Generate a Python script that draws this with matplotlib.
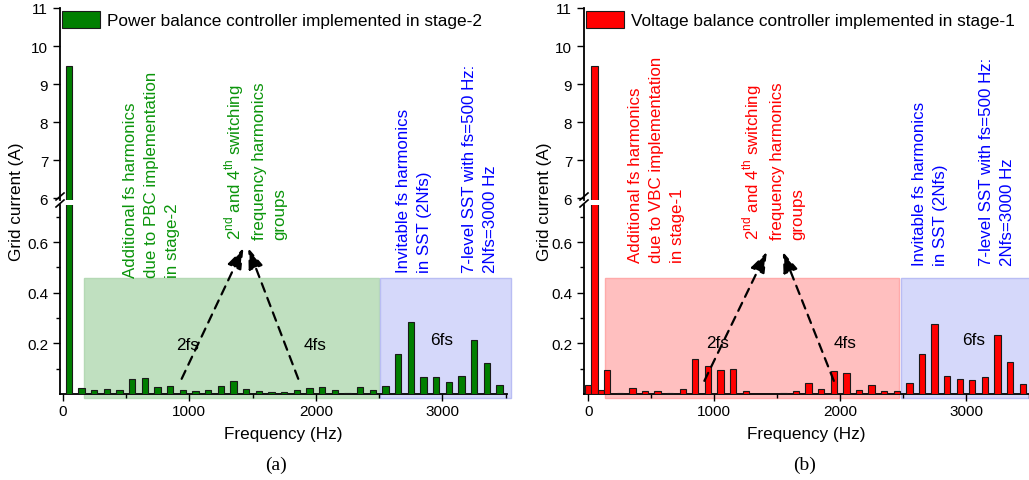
import numpy as np
import matplotlib
matplotlib.use('Agg')
import matplotlib.pyplot as plt
from matplotlib.patches import Rectangle
from matplotlib.lines import Line2D

plt.rcParams['font.family'] = ['Liberation Sans', 'DejaVu Sans']
plt.rcParams['mathtext.fontset'] = 'custom'
plt.rcParams['mathtext.rm'] = 'Liberation Sans'

## Harmonic spectra
freq_a = [50, 150, 250, 350, 450, 550, 650, 750, 850, 950, 1050, 1150, 1250, 1350,
          1450, 1550, 1650, 1750, 1850, 1950, 2050, 2150, 2250, 2350, 2450, 2550,
          2650, 2750, 2850, 2950, 3050, 3150, 3250, 3350, 3450]
current_a = [9.48, 0.025, 0.015, 0.02, 0.015, 0.06, 0.063, 0.028, 0.03, 0.015, 0.012,
             0.017, 0.03, 0.05, 0.018, 0.012, 0.007, 0.008, 0.015, 0.025, 0.026,
             0.014, 0.005, 0.026, 0.015, 0.032, 0.158, 0.284, 0.066, 0.069, 0.049,
             0.073, 0.215, 0.124, 0.034]

freq_b = [0, 50, 100, 150, 250, 350, 450, 550, 650, 750, 850, 950, 1050, 1150, 1250,
          1350, 1450, 1550, 1650, 1750, 1850, 1950, 2050, 2150, 2250, 2350, 2450,
          2550, 2650, 2750, 2850, 2950, 3050, 3150, 3250, 3350, 3450]
current_b = [0.036, 9.48, 0.015, 0.095, 0.003, 0.024, 0.013, 0.011, 0.005, 0.018,
             0.138, 0.11, 0.096, 0.1, 0.011, 0.001, 0.001, 0.003, 0.01, 0.045, 0.021,
             0.09, 0.084, 0.017, 0.036, 0.01, 0.013, 0.043, 0.158, 0.275, 0.072,
             0.058, 0.055, 0.067, 0.233, 0.128, 0.041]

label_a = 'Power balance controller implemented in stage-2'
label_b = 'Voltage balance controller implemented in stage-1'
note_a = 'Additional fs harmonics\ndue to PBC implementation\nin stage-2'
note_b = 'Additional fs harmonics\ndue to VBC implementation\nin stage-1'
note_groups = '2$^{\\mathregular{nd}}$ and 4$^{\\mathregular{th}}$ switching\nfrequency harmonics\ngroups'
note_sst1 = 'Invitable fs harmonics\nin SST (2Nfs)'
note_sst2 = '7-level SST with fs=500 Hz:\n2Nfs=3000 Hz'

W, H = 1029, 481
fig = plt.figure(figsize=(W / 100, H / 100), dpi=100)

def fx(px):
    return px / W

def fy(py):
    return 1 - py / H


def panel(left, right, xlim, freqs, vals, color, box_col, box_edge, box_span,
          blue_span, label, arrows, fs_labels):
    w = (right - left) / W
    ax_up = fig.add_axes([fx(left), fy(201), w, (201 - 9) / H])
    ax_lo = fig.add_axes([fx(left), fy(395), w, (395 - 206) / H])
    for ax in (ax_up, ax_lo):
        bars = ax.bar(freqs, vals, width=50, color=color, edgecolor='#1a1a1a',
                      linewidth=0.8, zorder=3, label=label)
        ax.set_xlim(*xlim)
        ax.spines['top'].set_visible(False)
        ax.spines['right'].set_visible(False)
        ax.spines['left'].set_linewidth(1.3)
        ax.spines['bottom'].set_linewidth(1.3)
        ax.tick_params(labelsize=11, width=1, length=5, direction='out')
        ax.patch.set_alpha(0)
    ax_up.set_ylim(5.95, 11)
    ax_up.set_yticks([6, 7, 8, 9, 10, 11])
    ax_up.spines['bottom'].set_visible(False)
    ax_up.set_xticks([])
    ax_lo.set_ylim(0, 0.747)
    ax_lo.set_yticks([0.2, 0.4, 0.6])
    ax_lo.set_yticks([0.1, 0.3, 0.5, 0.7], minor=True)
    ax_lo.set_xticks([0, 1000, 2000, 3000])
    ax_lo.set_xticks([500, 1500, 2500, 3500], minor=True)
    ax_lo.tick_params(which='minor', length=3, width=1)
    ax_lo.tick_params(axis='x', pad=2)
    ax_lo.set_xlabel('Frequency (Hz)', fontsize=12.3, labelpad=6)

    # shaded regions
    ax_lo.add_patch(Rectangle((box_span[0], -0.016), box_span[1] - box_span[0], 0.473,
                              facecolor=box_col, edgecolor=box_edge, lw=1,
                              clip_on=False, zorder=0))
    ax_lo.add_patch(Rectangle((blue_span[0], -0.016), blue_span[1] - blue_span[0], 0.473,
                              facecolor='#d5d8fa', edgecolor='#b9bdf4', lw=1,
                              clip_on=False, zorder=0))

    # dashed arrows
    for (x0, y0), (x1, y1) in arrows:
        ax_lo.annotate('', xy=(x1, y1), xytext=(x0, y0),
                       arrowprops=dict(arrowstyle='-|>,head_length=1.25,head_width=0.45',
                                       color='black', lw=1.6, ls=(0, (4, 3)),
                                       shrinkA=0, shrinkB=0), zorder=5)
    for x, y, t in fs_labels:
        ax_lo.text(x, y, t, fontsize=12.3, ha='left', va='center', zorder=4)

    ax_up.legend(handles=[bars], loc='upper left',
                 bbox_to_anchor=(fx(left + 2), fy(12)), bbox_transform=fig.transFigure,
                 frameon=False, fontsize=12.4, handlelength=2.2, handleheight=1.1,
                 handletextpad=0.42, borderpad=0, borderaxespad=0)

    # break marks on the y axis
    for yb in (201, 208):
        fig.add_artist(Line2D([fx(left - 4), fx(left + 4)], [fy(yb), fy(yb - 7)],
                              color='black', lw=1.2))
    return ax_up, ax_lo


panel(60, 507, (-21, 3510), freq_a, current_a, '#007f00', '#c0e0c0', '#b5d9b5',
      (168, 2501), (2508, 3540), label_a,
      [((940, 0.06), (1428, 0.577)), ((1861, 0.06), (1466, 0.577))],
      [(900, 0.197, '2fs'), (1905, 0.197, '4fs'), (2905, 0.217, '6fs')])

panel(584, 1029, (-34, 3484), freq_b, current_b, '#ff0000', '#ffbfbf', '#ffaaaa',
      (130, 2464), (2482, 3600), label_b,
      [((922, 0.052), (1418, 0.562)), ((1950, 0.052), (1545, 0.562))],
      [(935, 0.205, '2fs'), (1950, 0.205, '4fs'), (2965, 0.215, '6fs')])

green_txt = '#0a940a'
notes = [
    (123, 278, note_a, green_txt),
    (222, 240, note_groups, green_txt),
    (396, 273, note_sst1, 'blue'),
    (462, 273, note_sst2, 'blue'),
    (628, 263, note_b, 'red'),
    (740, 240, note_groups, 'red'),
    (912, 266, note_sst1, 'blue'),
    (979, 266, note_sst2, 'blue'),
]
for px, py, t, c in notes:
    fig.text(fx(px), fy(py), t, rotation=90, ha='left', va='bottom',
             multialignment='left', fontsize=12.2, color=c, linespacing=1.5)

for px, in ((17,), (545,)):
    fig.text(fx(px), fy(202), 'Grid current (A)', rotation=90, ha='center',
             va='center', fontsize=12.3)

fig.text(fx(276), fy(465), '(a)', ha='center', va='center', fontsize=14,
         family='Liberation Serif')
fig.text(fx(805), fy(465), '(b)', ha='center', va='center', fontsize=14,
         family='Liberation Serif')

fig.savefig('out.png', dpi=100)
